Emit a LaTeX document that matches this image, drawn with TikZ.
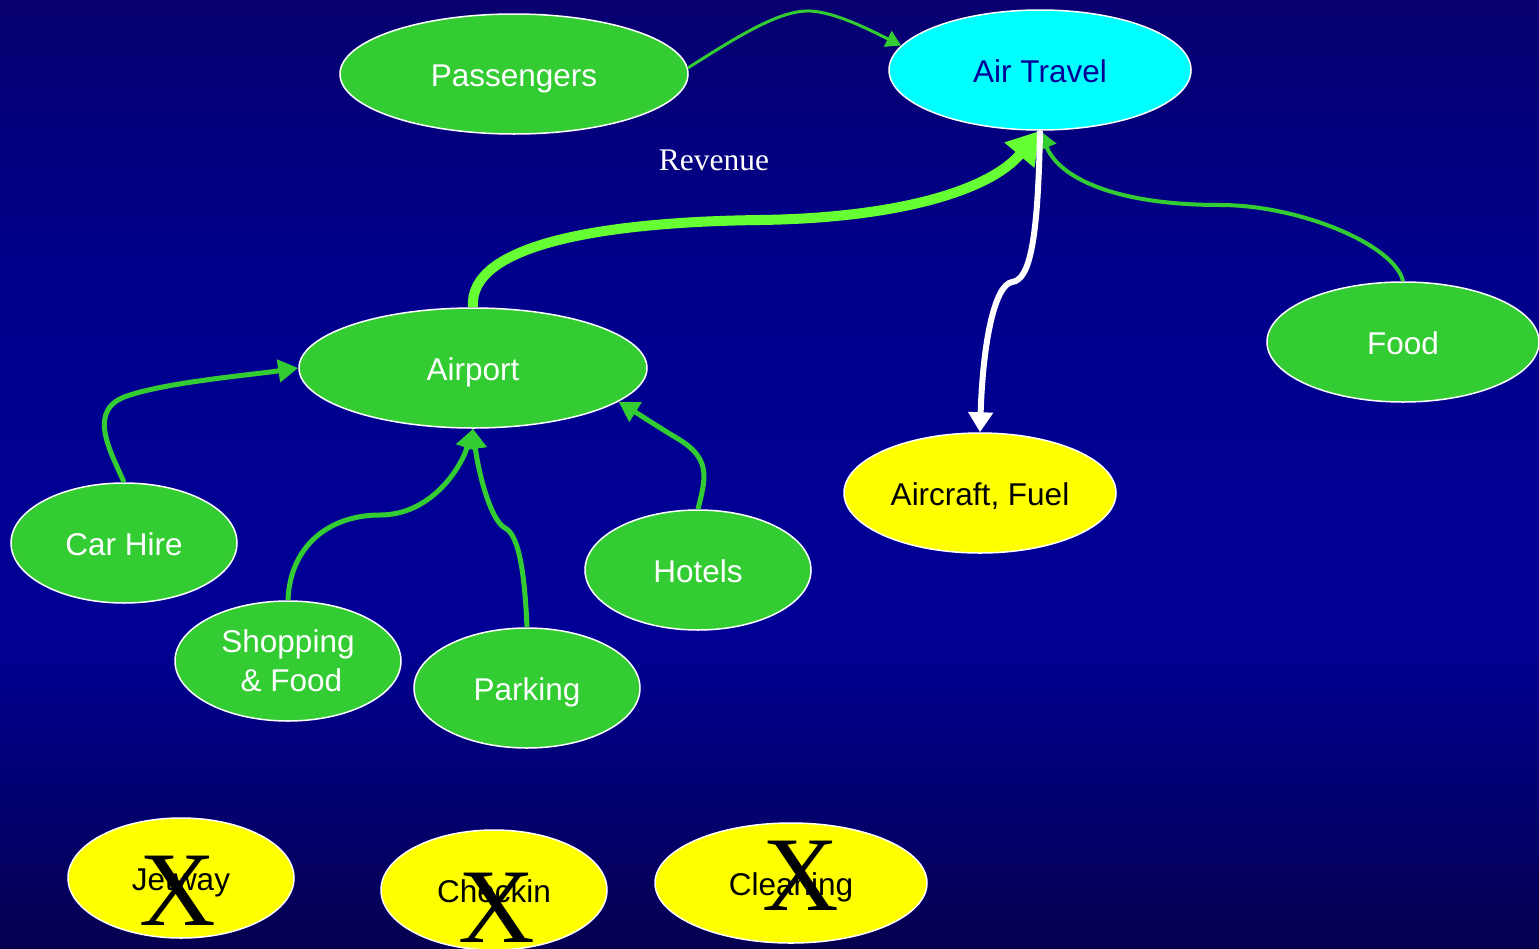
\documentclass[tikz,border=0pt]{standalone}
\usepackage{fontspec}
\setmainfont{Liberation Sans}
\newfontfamily\tms{Liberation Serif}
\usetikzlibrary{shapes.geometric,arrows.meta}
\definecolor{gr}{RGB}{51,204,51}
\definecolor{bgr}{RGB}{102,255,51}
\definecolor{cy}{RGB}{0,255,255}
\definecolor{ye}{RGB}{255,255,0}
\definecolor{atxt}{RGB}{0,0,150}
\definecolor{bgb}{RGB}{6,0,80}
\definecolor{bgm}{RGB}{0,0,150}
\definecolor{bgm2}{RGB}{0,0,140}
\definecolor{bgt}{RGB}{8,0,112}
\pgfdeclareverticalshading{bgshade}{100bp}{color(0bp)=(bgb); color(25bp)=(bgb); color(42bp)=(bgm); color(60bp)=(bgm2); color(75bp)=(bgt); color(100bp)=(bgt)}
\tikzset{
  ell/.style={ellipse, draw=white, line width=1.5pt, inner sep=0pt, minimum height=120pt,
    font=\fontsize{31.5}{37}\selectfont, align=center, text height=30pt, text depth=6pt},
  gnode/.style={ell, fill=gr, text=white},
  ynode/.style={ell, fill=ye, text=black},
  xmark/.style={font=\tms\fontsize{106}{106}\selectfont, inner sep=0pt, text=black},
  garrow/.style={draw=gr, line width=5pt, -{Triangle[length=20pt,width=22pt]}},
}
\begin{document}
\begin{tikzpicture}[x=1pt,y=-1pt]
\useasboundingbox (0,0) rectangle (1539,948);
\shade[shading=bgshade] (0,0) rectangle (1539,948);

\node[gnode, minimum width=348pt] (pas) at (514,74) {Passengers};
\node[ell, fill=cy, text=atxt, minimum width=302pt] (at) at (1040,70) {Air Travel};
\node[gnode, minimum width=348pt] (ap) at (473,368) {Airport};
\node[gnode, minimum width=272pt] (food) at (1403,342) {Food};
\node[ynode, minimum width=272pt] (af) at (980,493) {Aircraft, Fuel};
\node[gnode, minimum width=226pt] (ch) at (124,543) {Car Hire};
\node[gnode, minimum width=226pt] (ho) at (698,570) {Hotels};
\node[gnode, minimum width=226pt, text height={}, text depth={}] (sf) at (288,661) {Shopping\\[2pt]\hspace{7pt}\& Food};
\node[gnode, minimum width=226pt] (pk) at (527,688) {Parking};
\node[ynode, minimum width=226pt] (jw) at (181,878) {Jetway};
\node[ynode, minimum width=226pt] (ck) at (494,890) {Checkin};
\node[ynode, minimum width=272pt] (cl) at (791,883) {Cleaning};

\node[text=white, font=\tms\fontsize{31.5}{37}\selectfont] (rev) at (714,160) {Revenue};

% connectors
\draw[draw=gr, line width=3pt, -{Triangle[length=15pt,width=17pt]}]
  (pas.2) .. controls (740,35) and (780,10) .. (810,11) .. controls (835,12) and (870,30) .. (at.170);
\draw[draw=bgr, line width=10pt, -{Triangle[length=32pt,width=37pt]}]
  (ap.north) .. controls (468,245) and (600,222) .. (760,220) .. controls (900,218) and (990,190) .. (at.south);
\draw[draw=gr, line width=4pt, -{Triangle[length=18pt,width=20pt]}]
  (food.north) .. controls (1395,245) and (1300,205) .. (1220,205) .. controls (1120,205) and (1060,180) .. (at.south);
\draw[draw=white, line width=6pt, -{Triangle[length=20pt,width=24pt]}]
  (at.south) .. controls (1038,240) and (1030,280) .. (1012,282) .. controls (995,285) and (983,340) .. (af.north);
\draw[garrow]
  (ch.north) .. controls (110,450) and (85,408) .. (130,395) .. controls (170,382) and (250,375) .. (ap.west);
\draw[garrow]
  (sf.north) .. controls (290,545) and (330,515) .. (380,515) .. controls (430,515) and (460,470) .. (ap.south);
\draw[garrow]
  (pk.north) .. controls (525,580) and (520,535) .. (505,528) .. controls (490,520) and (478,470) .. (ap.south);
\draw[garrow]
  (ho.north) .. controls (705,480) and (712,460) .. (680,440) .. controls (660,428) and (640,415) .. (ap.-13);

% crosses
\node[xmark] (xj) at (178,891) {X};
\node[xmark] (xc) at (497,908) {X};
\node[xmark] (xl) at (801,876) {X};
\end{tikzpicture}
\end{document}
